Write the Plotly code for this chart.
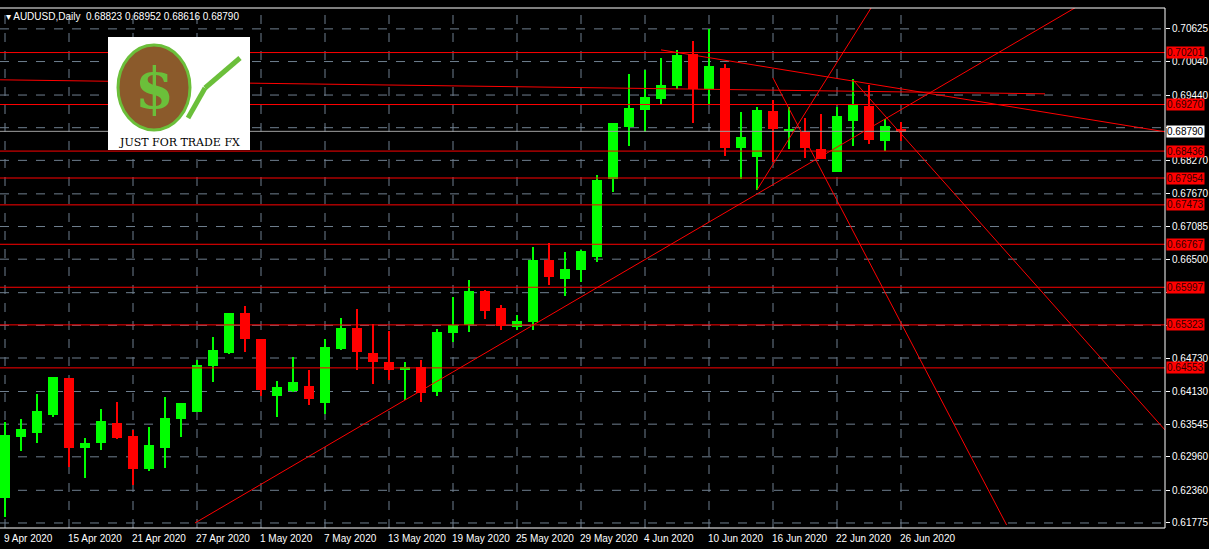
import plotly.graph_objects as go

dates = ["9 Apr 2020","15 Apr 2020","21 Apr 2020","27 Apr 2020","1 May 2020","7 May 2020","13 May 2020",
         "19 May 2020","25 May 2020","29 May 2020","4 Jun 2020","10 Jun 2020","16 Jun 2020","22 Jun 2020","26 Jun 2020"]
opens = [0.62223,0.63316,0.63387,0.63710,0.64373,0.63119,0.63208,0.63566,0.63333,0.62742,0.63119,0.63638,0.63763,0.64587,0.64820,
         0.65537,0.65071,0.64050,0.64140,0.64230,0.63925,0.64892,0.65268,0.64820,0.64659,0.64516,0.64570,0.64122,0.65178,0.65322,
         0.65931,0.65627,0.65286,0.65376,0.66487,0.66146,0.66308,0.66540,0.67938,0.68869,0.69174,0.69371,0.69604,0.70177,0.69550,
         0.69926,0.68493,0.68332,0.69156,0.68797,0.68780,0.68475,0.68063,0.68977,0.69245,0.68618,0.68823]
highs = [0.63584,0.63638,0.64086,0.64391,0.64373,0.63298,0.63817,0.63943,0.63441,0.63495,0.64032,0.63925,0.64695,0.65107,0.65537,
         0.65662,0.65071,0.64319,0.64749,0.64516,0.65071,0.65447,0.65608,0.65340,0.65214,0.64659,0.64695,0.65250,0.65824,0.66128,
         0.65949,0.65680,0.65501,0.66719,0.66791,0.66630,0.66665,0.68009,0.68941,0.69819,0.69891,0.70105,0.70249,0.70410,0.70625,
         0.69996,0.69138,0.69228,0.69353,0.69228,0.69031,0.69102,0.69228,0.69729,0.69621,0.69005,0.68952]
lows = [0.61882,0.63065,0.63208,0.63674,0.62778,0.62581,0.63083,0.63280,0.62456,0.62706,0.62760,0.63316,0.63763,0.64301,0.64802,
        0.64838,0.64050,0.63674,0.64122,0.63889,0.63728,0.64874,0.64516,0.64265,0.64337,0.63979,0.63943,0.64050,0.65017,0.65196,
        0.65430,0.65232,0.65232,0.65232,0.66040,0.65842,0.66094,0.66451,0.67705,0.68529,0.68780,0.69264,0.69550,0.68941,0.69281,
        0.68350,0.67938,0.67741,0.68242,0.68475,0.68314,0.68296,0.68063,0.68529,0.68565,0.68440,0.68616]
closes = [0.63351,0.63459,0.63781,0.64391,0.63119,0.63208,0.63602,0.63298,0.62742,0.63172,0.63656,0.63925,0.64605,0.64874,0.65537,
          0.65071,0.64158,0.64212,0.64301,0.63996,0.64928,0.65268,0.64838,0.64659,0.64516,0.64570,0.64104,0.65196,0.65322,0.65931,
          0.65573,0.65304,0.65394,0.66487,0.66182,0.66326,0.66648,0.67920,0.68941,0.69210,0.69407,0.69621,0.70159,0.69550,0.69962,
          0.68493,0.68690,0.69174,0.68833,0.68833,0.68493,0.68296,0.69066,0.69281,0.68636,0.68887,0.68790]
levels = [0.70201,0.69270,0.68436,0.67954,0.67473,0.66767,0.65997,0.65323,0.64553]
current_price = 0.68790
price_ticks = [0.70625,0.70040,0.69440,0.68855,0.68270,0.67670,0.67085,0.66500,0.65900,0.65315,0.64730,0.64130,0.63545,0.62960,0.62360,0.61775]
tick_labels = ["0.70625","0.70040","0.69440","","0.68270","0.67670","0.67085","0.66500","","","0.64730","0.64130","0.63545","0.62960","0.62360","0.61775"]
# trendlines: (bar index, price) pairs
trend_x0 = [11.875, 41.0, 47.0, 48.0, 53.0, -0.31]
trend_y0 = [0.61775, 0.70249, 0.67741, 0.69747, 0.69711, 0.69713]
trend_x1 = [67.19, 72.5, 54.25, 62.6, 72.5, 65.0]
trend_y1 = [0.71055, 0.68782, 0.71055, 0.61739, 0.63441, 0.69462]

n = len(opens)
idx = list(range(n))
XMIN, XMAX = -0.3125, 72.5
YMIN, YMAX = 0.61685, 0.70999
PW, PH = 1165, 520

fig = go.Figure()
cols = ["#00ff00" if c >= o else "#ff0000" for o, c in zip(opens, closes)]
fig.add_trace(go.Bar(x=idx, base=lows, y=[h - l for h, l in zip(highs, lows)], width=0.08,
                     marker=dict(color=cols, line=dict(width=0)), hoverinfo="skip"))
fig.add_trace(go.Bar(x=idx, base=[min(o, c) for o, c in zip(opens, closes)],
                     y=[max(abs(c - o), 0.00012) for o, c in zip(opens, closes)], width=0.66,
                     marker=dict(color=cols, line=dict(width=0)), hoverinfo="skip"))

shapes = []
for i in range(0, n, 4):
    shapes.append(dict(type="line", xref="x", yref="paper", x0=i, x1=i, y0=0, y1=1,
                       line=dict(color="#6f7f8f", width=1, dash="dash"), layer="below"))
for t in price_ticks:
    shapes.append(dict(type="line", xref="paper", yref="y", x0=0, x1=1, y0=t, y1=t,
                       line=dict(color="#6f7f8f", width=1, dash="dash"), layer="below"))
shapes.append(dict(type="line", xref="paper", yref="y", x0=0, x1=1, y0=current_price, y1=current_price,
                   line=dict(color="#a0a0a0", width=1)))
for lv in levels:
    shapes.append(dict(type="line", xref="paper", yref="y", x0=0, x1=1, y0=lv, y1=lv,
                       line=dict(color="#ff0000", width=1)))
for a, b, c, d in zip(trend_x0, trend_y0, trend_x1, trend_y1):
    shapes.append(dict(type="line", xref="x", yref="y", x0=a, y0=b, x1=c, y1=d,
                       line=dict(color="#ff0000", width=1)))

def px(x): return x / PW
def py(y): return (528 - y) / PH

# logo
shapes.append(dict(type="rect", xref="paper", yref="paper", x0=px(108), x1=px(250), y0=py(150), y1=py(37),
                   fillcolor="white", line=dict(width=0)))
shapes.append(dict(type="circle", xref="paper", yref="paper", x0=px(118), x1=px(190), y0=py(130), y1=py(45),
                   fillcolor="#8b5a2b", line=dict(color="#6bbf3a", width=3)))
shapes.append(dict(type="line", xref="paper", yref="paper", x0=px(188), y0=py(118), x1=px(205), y1=py(88),
                   line=dict(color="#6bbf3a", width=5)))
shapes.append(dict(type="line", xref="paper", yref="paper", x0=px(205), y0=py(88), x1=px(240), y1=py(58),
                   line=dict(color="#6bbf3a", width=5)))
# frame
shapes.append(dict(type="line", xref="paper", yref="paper", x0=1, x1=1, y0=0, y1=1, line=dict(color="white", width=1)))
shapes.append(dict(type="line", xref="paper", yref="paper", x0=0, x1=1, y0=0, y1=0, line=dict(color="white", width=1)))
shapes.append(dict(type="line", xref="paper", yref="paper", x0=0, x1=1, y0=1, y1=1, line=dict(color="white", width=1)))

ann = []
FONT = "Liberation Sans"
for k, d in enumerate(dates):
    ann.append(dict(x=k * 4, y=0, xref="x", yref="paper", yshift=-3, text=d, showarrow=False,
                    xanchor="left", yanchor="top", font=dict(color="white", size=10, family=FONT), xshift=-3))
for lv in levels:
    ann.append(dict(x=1, y=lv, xref="paper", yref="y", text="%.5f" % lv, showarrow=False, xanchor="left",
                    yanchor="middle", xshift=1, bgcolor="#ff0000", font=dict(color="#300000", size=10, family=FONT), borderpad=0))
ann.append(dict(x=1, y=current_price, xref="paper", yref="y", text="%.5f" % current_price, showarrow=False,
                xanchor="left", yanchor="middle", xshift=1, bgcolor="white", font=dict(color="black", size=10, family=FONT), borderpad=0))
ann.append(dict(x=0, y=1, xref="paper", yref="paper", text="▾ AUDUSD,Daily  %.5f %.5f %.5f %.5f" % (opens[-1], highs[-1], lows[-1], closes[-1]),
                showarrow=False, xanchor="left", yanchor="top", xshift=4, yshift=-1,
                font=dict(color="white", size=10, family=FONT)))
ann.append(dict(x=px(154), y=py(88), xref="paper", yref="paper", text="<b>$</b>", showarrow=False,
                xanchor="center", yanchor="middle",
                font=dict(color="#6bbf3a", size=56, family="DejaVu Serif")))
ann.append(dict(x=px(179), y=py(143), xref="paper", yref="paper", text="JUST FOR TRADE FX", showarrow=False,
                xanchor="center", yanchor="middle",
                font=dict(color="black", size=11, family="DejaVu Serif")))

fig.update_layout(
    width=1209, height=549, margin=dict(l=0, r=44, t=8, b=21, autoexpand=False),
    paper_bgcolor="black", plot_bgcolor="black", showlegend=False, barmode="overlay", bargap=0,
    xaxis=dict(range=[XMIN, XMAX], showgrid=False, zeroline=False, showticklabels=False, fixedrange=True, automargin=False),
    yaxis=dict(range=[YMIN, YMAX], side="right", showgrid=False, zeroline=False, tickvals=price_ticks, automargin=False,
               ticktext=tick_labels, ticks="outside", ticklen=4, tickcolor="white",
               tickfont=dict(color="white", size=10, family=FONT)),
    shapes=shapes, annotations=ann,
)
fig.write_html("out.html", config={"displayModeBar": False},
               post_script="document.body.style.margin='0';document.body.style.background='black';document.body.style.overflow='hidden';")
